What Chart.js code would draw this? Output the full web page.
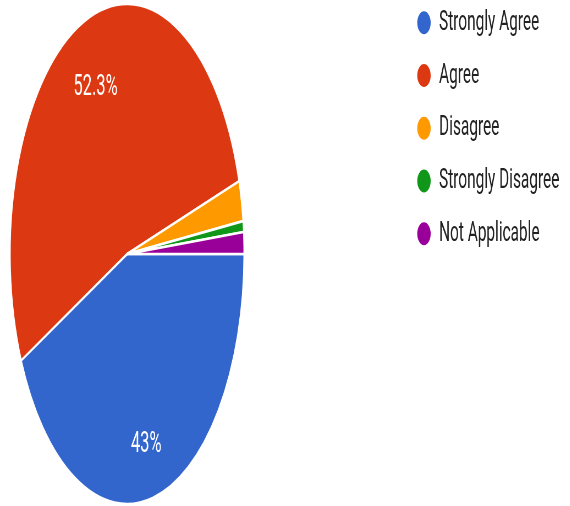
<!DOCTYPE html>
<html>
<head>
<meta charset="utf-8">
<script src="https://cdn.jsdelivr.net/npm/chart.js@4"></script>
<style>
  html, body { margin: 0; padding: 0; overflow: hidden; background: #fff; }
  /* the reference picture is squashed sideways, so the whole canvas is too */
  #myChart { display: block; transform: scaleX(0.55); transform-origin: 0 0; }
</style>
</head>
<body>
<canvas id="myChart" width="1036" height="506"></canvas>
<script>
const labels = ['Strongly Agree', 'Agree', 'Disagree', 'Strongly Disagree', 'Not Applicable']
const percents = [43, 52.3, 2.6, 0.7, 1.4]
const colors = ['#3366cc', '#dc3912', '#ff9900', '#109618', '#990099']

// the pie is squashed a bit more than the text
const squeezeX = 0.851
const pieCenter = { x: 231, y: 254 }

const squeezePie = {
  id: 'squeezePie',
  beforeDatasetsDraw(chart) {
    const arc = chart.getDatasetMeta(0).data[0]
    const ctx = chart.ctx
    ctx.save()
    ctx.translate(pieCenter.x, pieCenter.y)
    ctx.scale(squeezeX, 1)
    ctx.translate(-arc.x, -arc.y)
  },
  afterDatasetsDraw(chart) {
    const ctx = chart.ctx
    ctx.restore()

    // percent labels, only on the big slices
    ctx.save()
    ctx.font = '30px Roboto'
    ctx.fillStyle = '#fff'
    ctx.textAlign = 'center'
    ctx.textBaseline = 'middle'
    chart.getDatasetMeta(0).data.forEach((arc, i) => {
      if (percents[i] < 5) return
      const mid = (arc.startAngle + arc.endAngle) / 2
      const r = arc.outerRadius * 0.75
      const x = pieCenter.x + Math.cos(mid) * r * squeezeX
      const y = pieCenter.y + Math.sin(mid) * r + 8
      ctx.fillText(percents[i] + '%', x, y)
    })
    ctx.restore()
  }
}

new Chart(document.getElementById('myChart'), {
  type: 'pie',
  data: {
    labels,
    datasets: [{
      data: percents,
      backgroundColor: colors,
      borderColor: '#fff',
      borderWidth: 2.6,
      radius: 250,
      clip: false
    }]
  },
  options: {
    responsive: false,
    animation: false,
    rotation: 90,
    layout: {
      padding: { top: -16, right: 9, bottom: 0, left: 0 }
    },
    plugins: {
      tooltip: { enabled: false },
      legend: {
        position: 'right',
        align: 'start',
        labels: {
          usePointStyle: true,
          pointStyle: 'circle',
          pointStyleWidth: 27,
          boxHeight: 18,
          padding: 24.75,
          color: '#222',
          font: { family: 'Roboto', size: 28 }
        }
      }
    }
  },
  plugins: [squeezePie]
})
</script>
</body>
</html>
